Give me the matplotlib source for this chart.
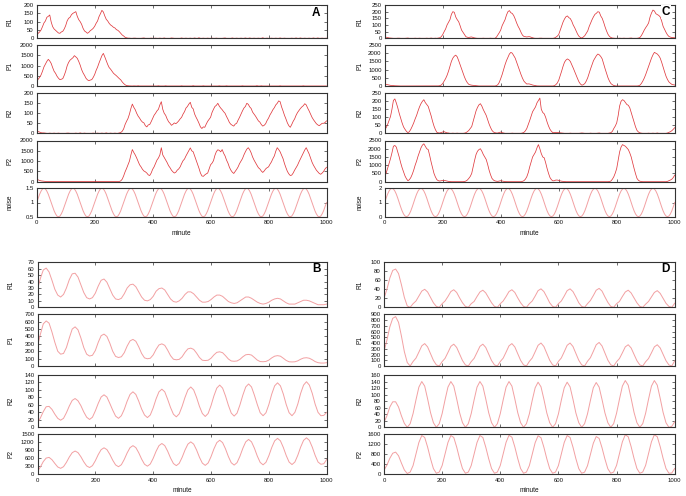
import numpy as np
import matplotlib
matplotlib.use('Agg')
import matplotlib.pyplot as plt

plt.rcParams['font.family'] = ['Liberation Sans', 'DejaVu Sans']

# ---------------- data ----------------
minutes = np.arange(0, 1001, 10)
fine_minutes = np.arange(0, 1001, 5)
x_ticks = [0, 200, 400, 600, 800, 1000]

# Panel A (stochastic, noise amplitude 0.5): values at 0,10,...,1000 and at 5,15,...,995
A_R1 = [
    18, 38, 70, 104, 132, 98, 56, 40, 30, 42,
    76, 120, 142, 155, 132, 100, 60, 38, 36, 52,
    72, 104, 148, 158, 114, 90, 74, 62, 48, 30,
    14, 3, 1, 0, 1, 0, 0, 2, 0, 0,
    0, 1, 0, 0, 2, 0, 0, 1, 0, 0,
    2, 0, 0, 1, 0, 0, 3, 0, 0, 1,
    0, 0, 1, 0, 0, 2, 0, 0, 0, 1,
    0, 0, 2, 0, 0, 1, 0, 0, 3, 0,
    0, 1, 0, 0, 2, 0, 0, 0, 1, 0,
    0, 2, 0, 0, 1, 0, 0, 2, 0, 0,
    1]
A_R1_mid = [
    30, 50, 92, 126, 140, 70, 48, 32, 38, 56,
    104, 126, 150, 160, 112, 84, 44, 30, 46, 60,
    90, 130, 168, 134, 104, 80, 66, 52, 40, 20,
    6, 1, 0, 1, 0, 0, 1, 0, 0, 1,
    0, 0, 1, 0, 0, 0, 2, 0, 0, 0,
    0, 1, 0, 0, 2, 0, 0, 1, 0, 0,
    1, 0, 0, 0, 1, 0, 0, 2, 0, 0,
    1, 0, 0, 2, 0, 0, 1, 0, 0, 1,
    0, 0, 1, 0, 0, 1, 0, 0, 0, 2,
    0, 0, 1, 0, 0, 2, 0, 0, 1, 0]
A_P1 = [
    200, 420, 720, 1060, 1300, 1100, 720, 480, 310, 360,
    720, 1150, 1320, 1480, 1350, 1020, 640, 380, 260, 310,
    560, 920, 1300, 1590, 1230, 900, 720, 560, 430, 300,
    120, 20, 5, 0, 0, 10, 0, 0, 5, 0,
    0, 0, 10, 0, 0, 0, 5, 0, 0, 0,
    10, 0, 0, 0, 15, 0, 0, 0, 0, 5,
    0, 0, 0, 10, 0, 0, 0, 0, 5, 0,
    0, 10, 0, 0, 0, 0, 15, 0, 0, 0,
    5, 0, 0, 0, 10, 0, 0, 0, 0, 5,
    0, 0, 10, 0, 0, 0, 5, 0, 0, 0,
    0]
A_P1_mid = [
    330, 540, 930, 1200, 1220, 900, 620, 380, 330, 520,
    980, 1260, 1380, 1420, 1200, 800, 520, 300, 290, 420,
    760, 1120, 1480, 1420, 1050, 820, 620, 500, 360, 200,
    60, 10, 0, 5, 0, 0, 5, 0, 0, 0,
    5, 0, 0, 0, 10, 0, 0, 0, 5, 0,
    0, 5, 0, 0, 0, 5, 0, 10, 0, 0,
    5, 0, 0, 0, 0, 10, 0, 0, 0, 0,
    0, 0, 5, 0, 0, 0, 0, 10, 0, 0,
    0, 5, 0, 0, 0, 0, 5, 0, 0, 0,
    5, 0, 0, 5, 0, 0, 0, 0, 5, 0]
A_R2 = [
    12, 6, 2, 1, 0, 0, 1, 0, 0, 0,
    0, 1, 0, 0, 0, 2, 0, 0, 0, 0,
    0, 1, 0, 0, 2, 0, 0, 1, 0, 4,
    22, 60, 96, 146, 118, 86, 64, 52, 32, 44,
    74, 100, 120, 158, 100, 72, 50, 45, 48, 62,
    80, 108, 134, 155, 122, 80, 50, 24, 30, 60,
    80, 120, 140, 136, 118, 100, 70, 45, 36, 50,
    80, 112, 134, 145, 124, 96, 74, 56, 36, 48,
    76, 104, 128, 150, 158, 112, 72, 38, 44, 72,
    104, 124, 138, 142, 112, 80, 58, 42, 44, 50,
    62]
A_R2_mid = [
    9, 3, 2, 0, 1, 0, 0, 1, 0, 0,
    1, 0, 0, 1, 0, 0, 1, 0, 0, 1,
    0, 0, 1, 0, 0, 1, 0, 0, 2, 10,
    44, 74, 124, 130, 100, 76, 56, 38, 42, 58,
    90, 112, 142, 120, 90, 58, 40, 52, 54, 72,
    96, 126, 146, 130, 96, 66, 32, 32, 46, 70,
    104, 134, 150, 126, 108, 84, 54, 40, 46, 66,
    96, 126, 150, 132, 106, 86, 62, 44, 40, 64,
    92, 118, 142, 162, 132, 90, 52, 30, 60, 90,
    114, 132, 148, 126, 96, 68, 48, 38, 50, 54]
A_P2 = [
    110, 60, 30, 10, 5, 0, 0, 5, 0, 0,
    0, 0, 5, 0, 0, 0, 10, 0, 0, 0,
    5, 0, 0, 0, 10, 0, 0, 5, 0, 40,
    280, 640, 1000, 1560, 1300, 980, 720, 520, 420, 300,
    600, 880, 1150, 1650, 1180, 930, 680, 480, 460, 620,
    880, 1100, 1380, 1640, 1450, 1050, 650, 280, 330, 420,
    820, 1020, 1460, 1520, 1560, 1250, 900, 560, 400, 600,
    880, 1120, 1450, 1650, 1400, 1050, 800, 620, 450, 620,
    720, 960, 1250, 1650, 1450, 1120, 680, 380, 320, 560,
    800, 1100, 1400, 1650, 1350, 950, 680, 480, 360, 500,
    700]
A_P2_mid = [
    90, 40, 20, 5, 0, 5, 0, 0, 0, 5,
    0, 5, 0, 0, 5, 0, 0, 0, 5, 0,
    0, 0, 5, 0, 0, 5, 0, 0, 10, 120,
    480, 820, 1300, 1420, 1150, 820, 600, 480, 330, 420,
    720, 1050, 1300, 1300, 1050, 780, 560, 420, 560, 720,
    1020, 1250, 1520, 1500, 1250, 850, 420, 260, 380, 620,
    900, 1280, 1550, 1450, 1380, 1050, 700, 460, 500, 720,
    1000, 1300, 1580, 1550, 1200, 920, 680, 520, 520, 680,
    850, 1120, 1480, 1560, 1280, 880, 500, 300, 420, 680,
    960, 1250, 1540, 1500, 1150, 800, 560, 400, 420, 620]
A_noise = [
    1.00, 1.15, 1.29, 1.40, 1.48, 1.50, 1.48, 1.40, 1.29, 1.15, 1.00, 0.85, 0.71, 0.60, 0.52, 0.50, 0.52, 0.60, 0.71, 0.85,
    1.00, 1.15, 1.29, 1.40, 1.48, 1.50, 1.48, 1.40, 1.29, 1.15, 1.00, 0.85, 0.71, 0.60, 0.52, 0.50, 0.52, 0.60, 0.71, 0.85,
    1.00, 1.15, 1.29, 1.40, 1.48, 1.50, 1.48, 1.40, 1.29, 1.15, 1.00, 0.85, 0.71, 0.60, 0.52, 0.50, 0.52, 0.60, 0.71, 0.85,
    1.00, 1.15, 1.29, 1.40, 1.48, 1.50, 1.48, 1.40, 1.29, 1.15, 1.00, 0.85, 0.71, 0.60, 0.52, 0.50, 0.52, 0.60, 0.71, 0.85,
    1.00, 1.15, 1.29, 1.40, 1.48, 1.50, 1.48, 1.40, 1.29, 1.15, 1.00, 0.85, 0.71, 0.60, 0.52, 0.50, 0.52, 0.60, 0.71, 0.85,
    1.00, 1.15, 1.29, 1.40, 1.48, 1.50, 1.48, 1.40, 1.29, 1.15, 1.00, 0.85, 0.71, 0.60, 0.52, 0.50, 0.52, 0.60, 0.71, 0.85,
    1.00, 1.15, 1.29, 1.40, 1.48, 1.50, 1.48, 1.40, 1.29, 1.15, 1.00, 0.85, 0.71, 0.60, 0.52, 0.50, 0.52, 0.60, 0.71, 0.85,
    1.00, 1.15, 1.29, 1.40, 1.48, 1.50, 1.48, 1.40, 1.29, 1.15, 1.00, 0.85, 0.71, 0.60, 0.52, 0.50, 0.52, 0.60, 0.71, 0.85,
    1.00, 1.15, 1.29, 1.40, 1.48, 1.50, 1.48, 1.40, 1.29, 1.15, 1.00, 0.85, 0.71, 0.60, 0.52, 0.50, 0.52, 0.60, 0.71, 0.85,
    1.00, 1.15, 1.29, 1.40, 1.48, 1.50, 1.48, 1.40, 1.29, 1.15, 1.00, 0.85, 0.71, 0.60, 0.52, 0.50, 0.52, 0.60, 0.71, 0.85,
    1.00]

# Panel C (stochastic, noise amplitude 1)
C_R1 = [
    10, 6, 2, 0, 0, 1, 0, 0, 2, 0,
    0, 0, 1, 0, 0, 0, 2, 0, 0, 4,
    28, 70, 120, 180, 195, 140, 95, 45, 12, 6,
    10, 3, 0, 0, 1, 0, 0, 0, 0, 25,
    62, 118, 175, 208, 186, 145, 90, 45, 14, 10,
    12, 4, 0, 0, 1, 0, 0, 0, 0, 8,
    28, 90, 145, 168, 148, 100, 55, 15, 2, 20,
    55, 115, 162, 188, 196, 150, 85, 30, 6, 1,
    0, 1, 0, 0, 0, 2, 0, 0, 6, 40,
    80, 115, 190, 205, 178, 160, 90, 45, 14, 6,
    4]
C_R1_mid = [
    8, 3, 1, 0, 1, 0, 0, 1, 0, 0,
    1, 0, 0, 0, 1, 0, 0, 1, 2, 12,
    50, 100, 140, 200, 160, 125, 62, 28, 8, 9,
    6, 1, 0, 0, 0, 0, 1, 0, 8, 42,
    95, 140, 200, 192, 170, 115, 70, 24, 12, 12,
    8, 1, 0, 1, 0, 0, 0, 0, 2, 16,
    60, 122, 162, 155, 128, 80, 32, 6, 10, 38,
    88, 140, 180, 200, 168, 120, 55, 14, 2, 0,
    0, 0, 1, 0, 1, 0, 0, 2, 20, 62,
    96, 160, 212, 185, 172, 130, 68, 26, 9, 5]
C_P1 = [
    120, 80, 40, 20, 10, 5, 0, 0, 0, 0,
    0, 0, 0, 0, 0, 0, 0, 0, 0, 20,
    150, 450, 900, 1500, 1820, 1780, 1300, 800, 350, 100,
    50, 30, 10, 0, 0, 0, 0, 0, 0, 80,
    450, 1000, 1550, 1950, 2000, 1700, 1200, 700, 300, 120,
    120, 60, 20, 0, 0, 0, 0, 0, 0, 80,
    350, 900, 1450, 1650, 1500, 1100, 650, 250, 50, 150,
    500, 1050, 1550, 1850, 1900, 1650, 1050, 500, 150, 30,
    0, 0, 0, 0, 0, 0, 0, 0, 50, 300,
    700, 1200, 1700, 2050, 1950, 1700, 1150, 600, 250, 100,
    60]
C_P1_mid = [
    100, 60, 30, 15, 5, 0, 0, 0, 0, 0,
    0, 0, 0, 0, 0, 0, 0, 0, 5, 60,
    300, 650, 1200, 1700, 1880, 1550, 1050, 550, 200, 70,
    40, 20, 0, 0, 0, 0, 0, 0, 20, 220,
    700, 1300, 1750, 2050, 1850, 1450, 950, 480, 200, 130,
    90, 40, 5, 0, 0, 0, 0, 0, 20, 180,
    620, 1200, 1580, 1600, 1300, 880, 450, 120, 80, 300,
    780, 1300, 1700, 1950, 1800, 1350, 780, 300, 80, 10,
    0, 0, 0, 0, 0, 0, 0, 10, 150, 480,
    950, 1450, 1900, 2000, 1850, 1450, 870, 400, 170, 80]
C_R2 = [
    22, 55, 105, 205, 190, 125, 65, 25, 4, 25,
    65, 112, 165, 200, 192, 168, 110, 45, 6, 2,
    8, 6, 2, 0, 0, 1, 0, 0, 4, 18,
    42, 110, 162, 185, 148, 112, 58, 18, 4, 2,
    8, 2, 0, 0, 1, 0, 0, 0, 6, 30,
    80, 135, 165, 205, 150, 122, 70, 25, 4, 6,
    4, 2, 0, 0, 1, 0, 0, 0, 2, 0,
    0, 1, 0, 0, 2, 0, 0, 0, 4, 30,
    65, 170, 210, 192, 175, 130, 70, 18, 3, 0,
    0, 1, 0, 0, 2, 0, 0, 0, 6, 16,
    35]
C_R2_mid = [
    35, 80, 150, 215, 160, 95, 40, 12, 10, 44,
    90, 140, 185, 210, 180, 140, 75, 22, 3, 5,
    10, 3, 0, 1, 0, 0, 0, 1, 10, 30,
    75, 140, 178, 170, 130, 85, 36, 8, 2, 5,
    4, 0, 0, 0, 0, 0, 0, 2, 15, 55,
    108, 150, 190, 220, 130, 100, 45, 12, 4, 5,
    3, 1, 0, 0, 0, 0, 0, 1, 1, 0,
    0, 0, 0, 1, 0, 0, 0, 2, 12, 45,
    110, 200, 205, 180, 160, 100, 40, 8, 1, 0,
    0, 0, 1, 0, 0, 0, 0, 2, 10, 25]
C_P2 = [
    300, 800, 1400, 2150, 2100, 1500, 850, 350, 60, 250,
    700, 1250, 1800, 2220, 2150, 1950, 1200, 500, 120, 40,
    80, 60, 20, 0, 0, 0, 0, 0, 40, 200,
    500, 1300, 1850, 2000, 1650, 1350, 700, 200, 50, 20,
    60, 20, 0, 0, 0, 0, 0, 0, 60, 300,
    900, 1500, 1800, 2250, 1700, 1450, 800, 250, 50, 100,
    80, 30, 10, 0, 0, 0, 0, 0, 0, 0,
    0, 0, 0, 0, 0, 0, 0, 0, 40, 300,
    800, 1800, 2250, 2150, 1950, 1500, 800, 200, 30, 0,
    0, 0, 0, 0, 0, 0, 0, 0, 60, 150,
    400]
C_P2_mid = [
    520, 1100, 1750, 2200, 1800, 1150, 600, 180, 120, 450,
    1000, 1550, 2050, 2300, 2000, 1600, 850, 280, 60, 60,
    80, 40, 10, 0, 0, 0, 0, 10, 100, 320,
    900, 1650, 1950, 1850, 1500, 1050, 420, 100, 30, 40,
    40, 5, 0, 0, 0, 0, 0, 20, 150, 550,
    1200, 1650, 2050, 2000, 1500, 1150, 500, 120, 60, 100,
    50, 20, 0, 0, 0, 0, 0, 0, 0, 0,
    0, 0, 0, 0, 0, 0, 0, 10, 150, 520,
    1300, 2100, 2200, 2050, 1750, 1150, 480, 80, 10, 0,
    0, 0, 0, 0, 0, 0, 0, 20, 100, 250]
C_noise = [
    1.00, 1.31, 1.59, 1.81, 1.95, 2.00, 1.95, 1.81, 1.59, 1.31, 1.00, 0.69, 0.41, 0.19, 0.05, 0.00, 0.05, 0.19, 0.41, 0.69,
    1.00, 1.31, 1.59, 1.81, 1.95, 2.00, 1.95, 1.81, 1.59, 1.31, 1.00, 0.69, 0.41, 0.19, 0.05, 0.00, 0.05, 0.19, 0.41, 0.69,
    1.00, 1.31, 1.59, 1.81, 1.95, 2.00, 1.95, 1.81, 1.59, 1.31, 1.00, 0.69, 0.41, 0.19, 0.05, 0.00, 0.05, 0.19, 0.41, 0.69,
    1.00, 1.31, 1.59, 1.81, 1.95, 2.00, 1.95, 1.81, 1.59, 1.31, 1.00, 0.69, 0.41, 0.19, 0.05, 0.00, 0.05, 0.19, 0.41, 0.69,
    1.00, 1.31, 1.59, 1.81, 1.95, 2.00, 1.95, 1.81, 1.59, 1.31, 1.00, 0.69, 0.41, 0.19, 0.05, 0.00, 0.05, 0.19, 0.41, 0.69,
    1.00, 1.31, 1.59, 1.81, 1.95, 2.00, 1.95, 1.81, 1.59, 1.31, 1.00, 0.69, 0.41, 0.19, 0.05, 0.00, 0.05, 0.19, 0.41, 0.69,
    1.00, 1.31, 1.59, 1.81, 1.95, 2.00, 1.95, 1.81, 1.59, 1.31, 1.00, 0.69, 0.41, 0.19, 0.05, 0.00, 0.05, 0.19, 0.41, 0.69,
    1.00, 1.31, 1.59, 1.81, 1.95, 2.00, 1.95, 1.81, 1.59, 1.31, 1.00, 0.69, 0.41, 0.19, 0.05, 0.00, 0.05, 0.19, 0.41, 0.69,
    1.00, 1.31, 1.59, 1.81, 1.95, 2.00, 1.95, 1.81, 1.59, 1.31, 1.00, 0.69, 0.41, 0.19, 0.05, 0.00, 0.05, 0.19, 0.41, 0.69,
    1.00, 1.31, 1.59, 1.81, 1.95, 2.00, 1.95, 1.81, 1.59, 1.31, 1.00, 0.69, 0.41, 0.19, 0.05, 0.00, 0.05, 0.19, 0.41, 0.69,
    1.00]

# Panel B (deterministic, damped)
B_R1 = [
    28, 45, 58, 61, 55, 42, 28, 19, 16, 20,
    30, 43, 52, 53, 47, 35, 23, 15, 13, 15,
    22, 33, 42, 44, 39, 29, 19, 13, 12, 14,
    21, 30, 35, 36, 32, 24, 16, 11, 10, 12,
    17, 25, 29, 30, 27, 20, 13, 9, 8, 10,
    14, 20, 24, 24, 21, 16, 11, 8, 8, 9,
    12, 16, 19, 19, 17, 13, 9, 7, 6, 7,
    10, 13, 16, 16, 14, 11, 8, 6, 5, 6,
    8, 11, 13, 14, 13, 10, 7, 5, 5, 5,
    7, 9, 11, 11, 10, 8, 6, 4, 4, 4,
    5]
B_P1 = [
    270, 430, 570, 610, 580, 460, 320, 200, 160, 170,
    250, 380, 500, 530, 490, 380, 250, 160, 135, 145,
    210, 320, 410, 432, 400, 310, 200, 130, 115, 125,
    180, 270, 340, 360, 335, 260, 170, 110, 98, 105,
    150, 225, 285, 300, 280, 215, 140, 92, 84, 90,
    125, 185, 232, 242, 225, 175, 115, 78, 74, 78,
    105, 150, 185, 192, 180, 140, 95, 68, 64, 68,
    90, 125, 152, 157, 148, 115, 80, 60, 58, 62,
    80, 110, 133, 140, 133, 105, 75, 57, 55, 57,
    70, 92, 108, 112, 105, 85, 60, 45, 40, 40,
    45]
B_R2 = [
    12, 25, 42, 55, 56, 48, 35, 24, 19, 24,
    39, 57, 72, 77, 71, 58, 41, 27, 21, 27,
    44, 64, 81, 87, 81, 64, 46, 30, 24, 31,
    48, 70, 88, 95, 88, 70, 49, 33, 26, 33,
    52, 76, 95, 102, 95, 75, 53, 35, 28, 36,
    56, 80, 100, 108, 100, 80, 56, 37, 29, 37,
    58, 84, 105, 113, 105, 84, 59, 38, 30, 38,
    60, 86, 108, 116, 108, 86, 61, 39, 31, 39,
    61, 89, 111, 119, 111, 89, 61, 39, 31, 40,
    62, 91, 113, 122, 113, 91, 62, 40, 31, 32,
    40]
B_P2 = [
    100, 260, 460, 590, 615, 530, 390, 260, 210, 271,
    431, 629, 789, 850, 792, 640, 450, 298, 240, 309,
    492, 718, 901, 970, 904, 729, 512, 337, 270, 344,
    539, 781, 976, 1050, 978, 788, 552, 362, 290, 370,
    580, 840, 1050, 1130, 1052, 847, 593, 388, 310, 394,
    614, 886, 1106, 1190, 1107, 890, 620, 403, 320, 408,
    641, 929, 1162, 1250, 1163, 933, 647, 417, 330, 420,
    658, 952, 1190, 1280, 1191, 956, 664, 429, 340, 433,
    678, 982, 1227, 1320, 1228, 984, 685, 442, 350, 444,
    692, 998, 1246, 1340, 1246, 998, 692, 444, 360, 380,
    540]

# Panel D (deterministic, sustained)
D_R1 = [
    20, 40, 65, 82, 85, 75, 50, 22, 3, 0,
    8, 14, 25, 36, 40, 34, 22, 10, 2, 0,
    8, 14, 24, 35, 39, 33, 21, 10, 2, 0,
    8, 13, 24, 34, 38, 32, 21, 10, 2, 0,
    8, 14, 24, 35, 39, 33, 21, 10, 2, 0,
    8, 14, 25, 37, 41, 35, 23, 10, 2, 0,
    8, 14, 25, 37, 41, 35, 23, 10, 2, 0,
    8, 15, 26, 38, 42, 36, 23, 11, 2, 0,
    8, 13, 24, 34, 38, 32, 21, 10, 2, 0,
    7, 13, 23, 33, 37, 31, 20, 9, 2, 0,
    9]
D_P1 = [
    250, 450, 680, 830, 860, 760, 520, 250, 60, 0,
    78, 137, 242, 351, 390, 332, 215, 98, 20, 0,
    76, 133, 236, 342, 380, 323, 209, 95, 19, 0,
    76, 133, 236, 342, 380, 323, 209, 95, 19, 0,
    78, 137, 242, 351, 390, 332, 215, 98, 20, 0,
    80, 140, 248, 360, 400, 340, 220, 100, 20, 0,
    80, 140, 248, 360, 400, 340, 220, 100, 20, 0,
    82, 144, 254, 369, 410, 349, 226, 103, 21, 0,
    74, 130, 229, 333, 370, 315, 204, 93, 19, 0,
    74, 130, 229, 333, 370, 315, 204, 93, 19, 0,
    90]
D_R2 = [
    15, 35, 62, 78, 78, 62, 35, 12, 0, 11,
    42, 84, 123, 140, 126, 87, 45, 14, 0, 11,
    42, 84, 123, 140, 126, 87, 45, 14, 0, 11,
    42, 84, 123, 140, 126, 87, 45, 14, 0, 11,
    42, 84, 123, 140, 126, 87, 45, 14, 0, 11,
    41, 83, 121, 138, 124, 86, 44, 14, 0, 11,
    41, 83, 121, 138, 124, 86, 44, 14, 0, 11,
    41, 82, 121, 137, 123, 85, 44, 14, 0, 11,
    43, 86, 126, 143, 129, 89, 46, 14, 0, 11,
    43, 86, 126, 143, 129, 89, 46, 14, 0, 3,
    17]
D_P2 = [
    150, 350, 620, 820, 865, 720, 430, 160, 20, 76,
    334, 790, 1246, 1520, 1444, 1064, 608, 213, 30, 76,
    334, 790, 1246, 1520, 1444, 1064, 608, 213, 30, 76,
    334, 790, 1246, 1520, 1444, 1064, 608, 213, 30, 77,
    337, 796, 1255, 1530, 1454, 1071, 612, 214, 31, 76,
    332, 785, 1238, 1510, 1435, 1057, 604, 211, 30, 76,
    334, 790, 1246, 1520, 1444, 1064, 608, 213, 30, 74,
    326, 770, 1214, 1480, 1406, 1036, 592, 207, 30, 78,
    341, 806, 1271, 1550, 1473, 1085, 620, 217, 31, 78,
    341, 806, 1271, 1550, 1473, 1085, 620, 217, 31, 40,
    220]

# axis ticks
A_R_ticks = [0, 50, 100, 150, 200]
A_P_ticks = [0, 500, 1000, 1500, 2000]
A_noise_ticks = [0.5, 1, 1.5]
A_noise_labels = ['0.5', '1', '1.5']
C_R_ticks = [0, 50, 100, 150, 200, 250]
C_P_ticks = [0, 500, 1000, 1500, 2000, 2500]
C_noise_ticks = [0, 1, 2]
B_R1_ticks = [0, 10, 20, 30, 40, 50, 60, 70]
B_P1_ticks = [0, 100, 200, 300, 400, 500, 600, 700]
B_R2_ticks = [0, 20, 40, 60, 80, 100, 120, 140]
B_P2_ticks = [0, 300, 600, 900, 1200, 1500]
D_R1_ticks = [0, 20, 40, 60, 80, 100]
D_P1_ticks = [0, 100, 200, 300, 400, 500, 600, 700, 800, 900]
D_R2_ticks = [0, 20, 40, 60, 80, 100, 120, 140, 160]
D_P2_ticks = [0, 400, 800, 1200, 1600]


def merge(on_ten, on_five):
    """Interleave the readings taken at 0,10,.. with those taken at 5,15,.."""
    out = []
    for a, b in zip(on_ten[:-1], on_five):
        out.extend([a, b])
    out.append(on_ten[-1])
    return out


# ---------------- drawing ----------------
W, H = 686, 496
fig = plt.figure(figsize=(W / 100, H / 100), dpi=100)

NOISY = '#e03a3e'
SMOOTH = '#f2a0a2'
FRAME = '#333333'


def panel(l, r, t, b, x, y, ylim, yticks, ylabel, label_x, color, lw,
          bottom=False, yticklabels=None):
    ax = fig.add_axes([l / W, 1 - b / H, (r - l) / W, (b - t) / H])
    ax.plot(x, y, color=color, lw=lw)
    ax.set_xlim(0, 1000)
    ax.set_ylim(*ylim)
    ax.set_xticks(x_ticks)
    ax.set_yticks(yticks)
    if yticklabels is not None:
        ax.set_yticklabels(yticklabels)
    ax.tick_params(direction='in', length=2.4, width=0.5, top=True, right=True,
                   labelsize=4.3, pad=2.2, color=FRAME, labelcolor='#111111')
    ax.tick_params(axis='x', pad=2.6)
    if not bottom:
        ax.tick_params(labelbottom=False)
    for s in ax.spines.values():
        s.set_linewidth(0.8)
        s.set_color(FRAME)
    fig.text(label_x / W, 1 - ((t + b) / 2) / H, ylabel, rotation=90,
             ha='center', va='center', fontsize=4.7, color='#111111')
    if bottom:
        fig.text(((l + r) / 2) / W, 1 - (b + 16.5) / H, 'minute',
                 ha='center', va='center', fontsize=4.7, color='#111111')
    return ax


# Panel A
Al, Ar = 36.7, 326.5
rowsAC = [(5, 38.3), (45, 86), (93.3, 133.3), (140.5, 181.7), (188.3, 216.7)]
panel(Al, Ar, *rowsAC[0], fine_minutes, merge(A_R1, A_R1_mid), (0, 200), A_R_ticks, 'R1', 10, NOISY, 0.55)
panel(Al, Ar, *rowsAC[1], fine_minutes, merge(A_P1, A_P1_mid), (0, 2000), A_P_ticks, 'P1', 10, NOISY, 0.55)
panel(Al, Ar, *rowsAC[2], fine_minutes, merge(A_R2, A_R2_mid), (0, 200), A_R_ticks, 'R2', 10, NOISY, 0.55)
panel(Al, Ar, *rowsAC[3], fine_minutes, merge(A_P2, A_P2_mid), (0, 2000), A_P_ticks, 'P2', 10, NOISY, 0.55)
panel(Al, Ar, *rowsAC[4], fine_minutes, A_noise, (0.5, 1.5), A_noise_ticks, 'noise', 10,
      SMOOTH, 0.7, bottom=True, yticklabels=A_noise_labels)

# Panel C
Cl, Cr = 384.7, 674.7
panel(Cl, Cr, *rowsAC[0], fine_minutes, merge(C_R1, C_R1_mid), (0, 250), C_R_ticks, 'R1', 360, NOISY, 0.55)
panel(Cl, Cr, *rowsAC[1], fine_minutes, merge(C_P1, C_P1_mid), (0, 2500), C_P_ticks, 'P1', 360, NOISY, 0.55)
panel(Cl, Cr, *rowsAC[2], fine_minutes, merge(C_R2, C_R2_mid), (0, 250), C_R_ticks, 'R2', 360, NOISY, 0.55)
panel(Cl, Cr, *rowsAC[3], fine_minutes, merge(C_P2, C_P2_mid), (0, 2500), C_P_ticks, 'P2', 360, NOISY, 0.55)
panel(Cl, Cr, *rowsAC[4], fine_minutes, C_noise, (0, 2), C_noise_ticks, 'noise', 360,
      SMOOTH, 0.7, bottom=True)

# Panel B
Bl, Br = 37.5, 326.7
rowsBD = [(262.3, 307.3), (314.3, 366), (375, 427.3), (433.5, 474)]
panel(Bl, Br, *rowsBD[0], minutes, B_R1, (0, 70), B_R1_ticks, 'R1', 11, SMOOTH, 0.7)
panel(Bl, Br, *rowsBD[1], minutes, B_P1, (0, 700), B_P1_ticks, 'P1', 11, SMOOTH, 0.7)
panel(Bl, Br, *rowsBD[2], minutes, B_R2, (0, 140), B_R2_ticks, 'R2', 11, SMOOTH, 0.7)
panel(Bl, Br, *rowsBD[3], minutes, B_P2, (0, 1500), B_P2_ticks, 'P2', 11, SMOOTH, 0.7, bottom=True)

# Panel D
Dl, Dr = 384.0, 674.7
panel(Dl, Dr, *rowsBD[0], minutes, D_R1, (0, 100), D_R1_ticks, 'R1', 360, SMOOTH, 0.7)
panel(Dl, Dr, *rowsBD[1], minutes, D_P1, (0, 900), D_P1_ticks, 'P1', 360, SMOOTH, 0.7)
panel(Dl, Dr, *rowsBD[2], minutes, D_R2, (0, 160), D_R2_ticks, 'R2', 360, SMOOTH, 0.7)
panel(Dl, Dr, *rowsBD[3], minutes, D_P2, (0, 1600), D_P2_ticks, 'P2', 360, SMOOTH, 0.7, bottom=True)

# panel letters
for letter, px, py in [('A', 320, 12.5), ('C', 670, 12.0), ('B', 321, 269.5), ('D', 670, 269.5)]:
    fig.text(px / W, 1 - py / H, letter, ha='right', va='center', fontsize=8.5,
             fontweight='bold', color='black',
             bbox=dict(facecolor='white', edgecolor='none', pad=0.6), zorder=10)

fig.savefig('out.png', dpi=100, facecolor='white')
